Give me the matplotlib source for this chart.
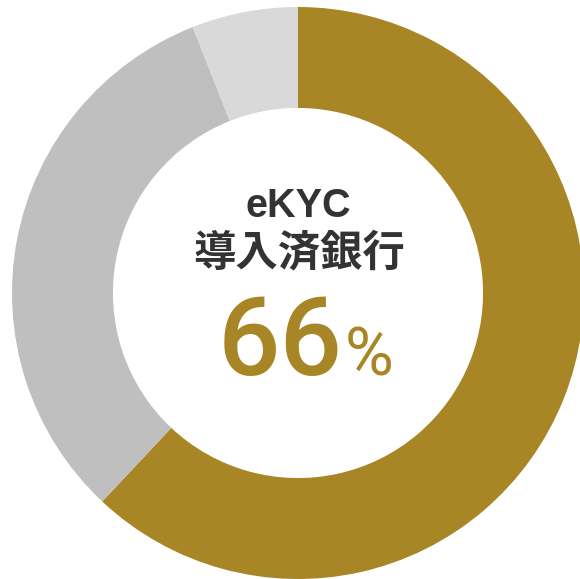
import matplotlib.pyplot as plt

# --------- DATA ---------
labels = ["導入済", "未導入", "検討中"]
values = [62, 32, 6]
colors = ["#A88625", "#BFBFBF", "#D9D9D9"]

title_en = "eKYC"
title_ja = "導入済銀行"
headline = "66"
unit = "%"
# ------------------------

W, H = 580, 579
fig = plt.figure(figsize=(W / 100, H / 100), dpi=100)
ax = fig.add_axes([0, 0, 1, 1])

# pixel-like data units, y measured upward
cx, cy = 298, H - 293
R = 286
ax.pie(values, colors=colors, startangle=90, counterclock=False,
       center=(cx, cy), radius=R,
       wedgeprops=dict(width=R * 0.353, linewidth=0))
ax.set_aspect("auto")
ax.set_xlim(0, W)
ax.set_ylim(0, H)
ax.axis("off")

dark = "#333333"
ax.text(cx, H - 217, title_en, ha="center", va="baseline",
        fontsize=28.5, fontweight="bold", color=dark,
        family=["Liberation Sans", "DejaVu Sans"])
ax.text(cx + 1, H - 265, title_ja, ha="center", va="baseline",
        fontsize=30.5, fontweight="bold", color=dark,
        family=["Noto Sans CJK JP", "DejaVu Sans"])
ax.text(343, H - 375, headline, ha="right", va="baseline",
        fontsize=79, fontweight="medium", color=colors[0],
        family=["Roboto", "DejaVu Sans"])
ax.text(345, H - 375, unit, ha="left", va="baseline",
        fontsize=48, color=colors[0],
        family=["Roboto", "DejaVu Sans"])

fig.savefig("out.png", dpi=100)
